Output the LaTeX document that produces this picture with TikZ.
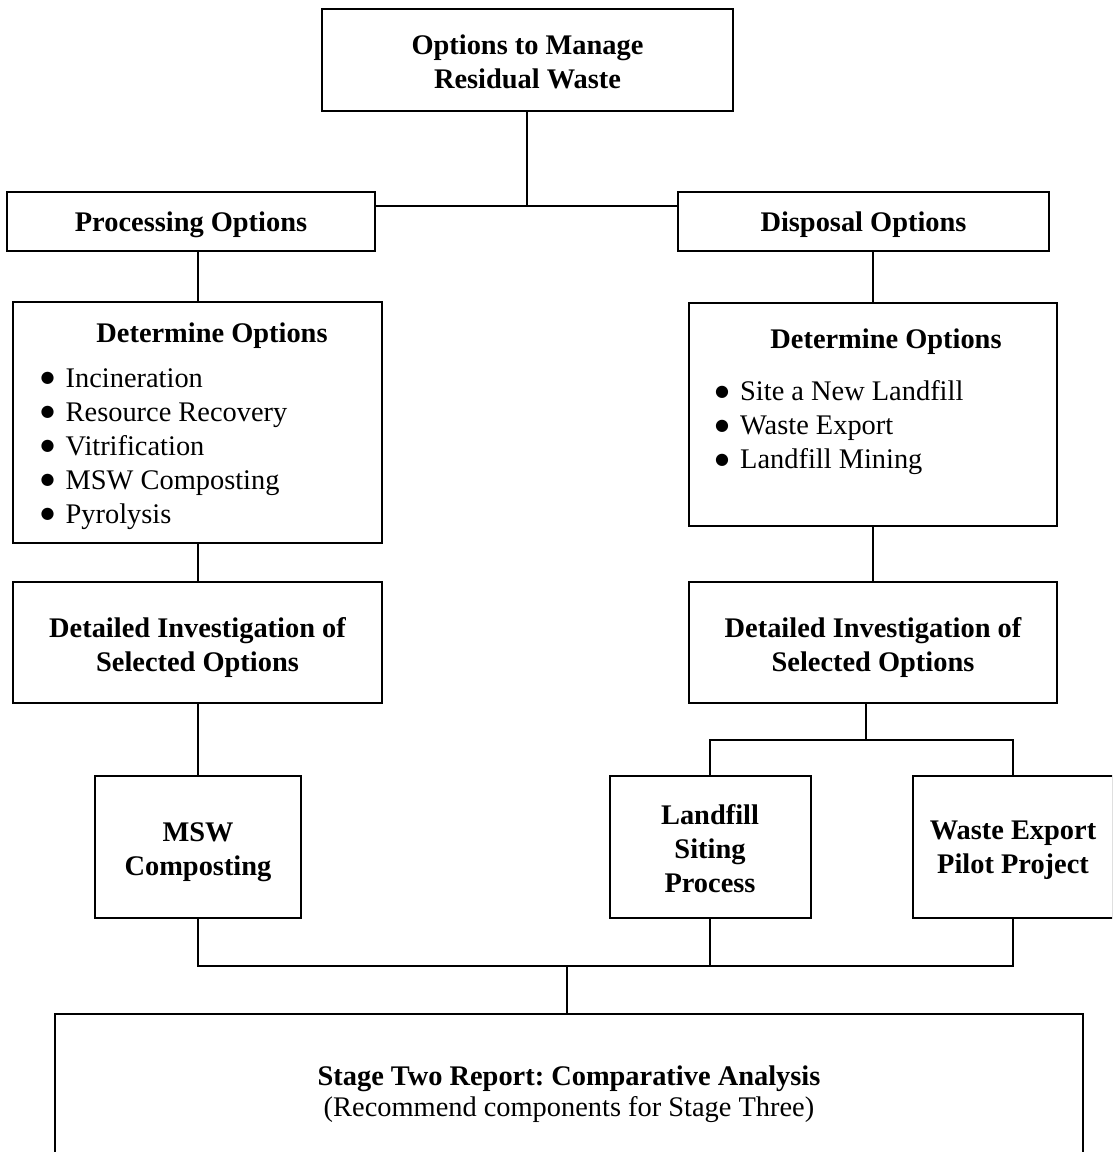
\documentclass[tikz,border=0pt]{standalone}
\usepackage{fontspec}
\setmainfont{Liberation Serif}
\newfontfamily\dvs{DejaVu Sans}
\newcommand{\bul}{\makebox[25pt][l]{\raisebox{4.5pt}{\dvs\fontsize{16}{16}\selectfont ●}}}
\frenchspacing
\begin{document}
\begin{tikzpicture}[x=1pt,y=-1pt,
  box/.style={draw=black,line width=2pt,inner sep=0pt,rectangle},
  txt/.style={font=\fontsize{28.4}{34}\selectfont,align=center,inner sep=0pt},
  btxt/.style={font=\fontsize{28.4}{34}\selectfont\bfseries,align=center,inner sep=0pt},
  lst/.style={font=\fontsize{28.4}{34}\selectfont,align=left,inner sep=0pt,anchor=west},
  conn/.style={line width=2pt}]
\useasboundingbox (0,0) rectangle (1112,1152);
\clip (0,0) rectangle (1112,1152);
% boxes
\node[box,minimum width=411pt,minimum height=102pt] (top) at (527.5,60) {};
\node[box,minimum width=368pt,minimum height=59pt] (proc) at (191,221.5) {};
\node[box,minimum width=371pt,minimum height=59pt] (disp) at (863.5,221.5) {};
\node[box,minimum width=369pt,minimum height=241pt] (det1) at (197.5,422.5) {};
\node[box,minimum width=368pt,minimum height=223pt] (det2) at (873,414.5) {};
\node[box,minimum width=369pt,minimum height=121pt] (inv1) at (197.5,642.5) {};
\node[box,minimum width=368pt,minimum height=121pt] (inv2) at (873,642.5) {};
\node[box,minimum width=206pt,minimum height=142pt] (msw) at (198,847) {};
\node[box,minimum width=201pt,minimum height=142pt] (land) at (710,847) {};
\node[box,minimum width=200pt,minimum height=142pt] (waste) at (1013,847) {};
\node[box,minimum width=1028pt,minimum height=176pt] (stage) at (569,1102) {};
% texts
\node[btxt] (ttop) at ([yshift=-2pt]top.center) {Options to Manage\\Residual Waste};
\node[btxt] (tproc) at ([yshift=-3pt]proc.center) {Processing Options};
\node[btxt] (tdisp) at ([yshift=-3pt]disp.center) {Disposal Options};
\node[btxt] (h1) at (212,336) {Determine Options};
\node[lst] (l1) at (40.5,449) {\bul Incineration\\\bul Resource Recovery\\\bul Vitrification\\\bul MSW Composting\\\bul Pyrolysis};
\node[btxt] (h2) at (886,342) {Determine Options};
\node[lst] (l2) at (715,428) {\bul Site a New Landfill\\\bul Waste Export\\\bul Landfill Mining};
\node[btxt] (tinv1) at ([yshift=-5pt]inv1.center) {Detailed Investigation of\\Selected Options};
\node[btxt] (tinv2) at ([yshift=-5pt]inv2.center) {Detailed Investigation of\\Selected Options};
\node[btxt] (tmsw) at ([yshift=-5pt]msw.center) {MSW\\Composting};
\node[btxt] (tland) at ([yshift=-2pt]land.center) {Landfill\\Siting\\Process};
\node[btxt] (twaste) at ([yshift=-3pt]waste.center) {Waste Export\\Pilot Project};
\node[txt,font=\fontsize{28.4}{31}\selectfont] (tstage) at (569,1094) {\textbf{Stage Two Report: Comparative Analysis}\\(Recommend components for Stage Three)};
% connectors
\coordinate (j1) at (527,206);
\coordinate (j2) at (866,740);
\coordinate (j3) at (567,966);
\draw[conn] (top.south -| j1) -- (j1);
\draw[conn] (proc.east |- j1) -- (disp.west |- j1);
\draw[conn] (det1.north) -- (det1.north |- proc.south);
\draw[conn] (det2.north) -- (det2.north |- disp.south);
\draw[conn] (inv1.north) -- (inv1.north |- det1.south);
\draw[conn] (inv2.north) -- (inv2.north |- det2.south);
\draw[conn] (msw.north) -- (msw.north |- inv1.south);
\draw[conn] (j2 |- inv2.south) -- (j2);
\draw[conn] (land.north) -- (land.north |- j2) -- (waste.north |- j2) -- (waste.north);
\draw[conn] (msw.south) -- (msw.south |- j3) -- (waste.south |- j3) -- (waste.south);
\draw[conn] (land.south) -- (land.south |- j3);
\draw[conn] (j3) -- (stage.north -| j3);
\end{tikzpicture}
\end{document}
